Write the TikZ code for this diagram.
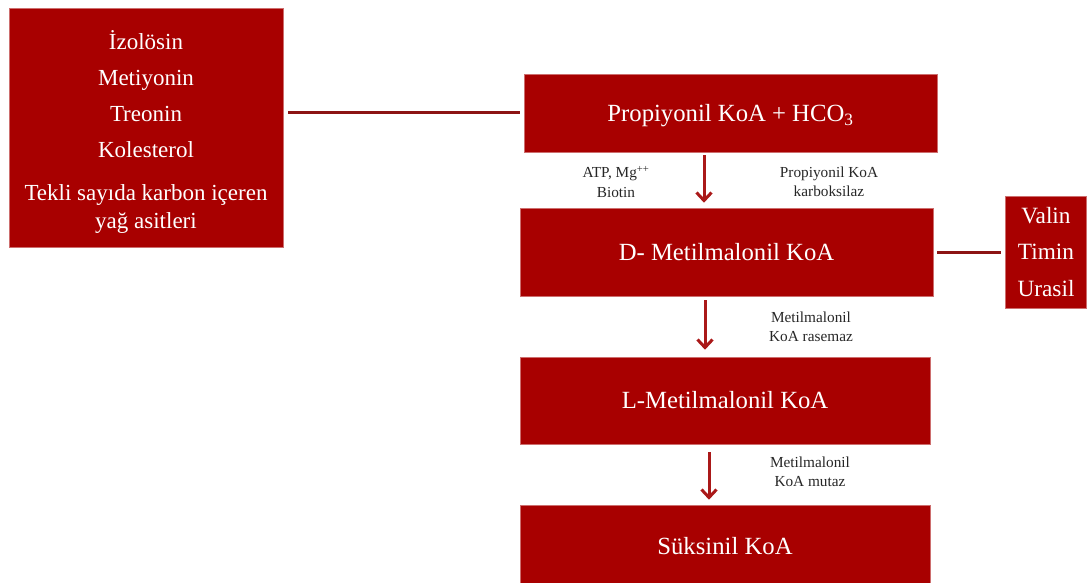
\documentclass[tikz,border=0pt]{standalone}
\usepackage{fontspec}
\setmainfont{Liberation Serif}
\usetikzlibrary{arrows.meta}
\definecolor{boxred}{RGB}{168,0,0}
\definecolor{boxedge}{RGB}{205,110,110}
\definecolor{linered}{RGB}{140,20,20}
\definecolor{arrred}{RGB}{170,25,25}
\begin{document}
\begin{tikzpicture}[x=1pt,y=-1pt,
  box/.style={draw=boxedge, line width=0.6pt, fill=boxred, text=white, align=center, inner sep=0pt,
    font=\fontsize{24.7}{36}\selectfont},
  lbl/.style={text=black!85, align=center, inner sep=0pt, font=\fontsize{15.3}{19.5}\selectfont},
  conn/.style={draw=linered, line width=3pt},
  arr/.style={draw=arrred, line width=3pt, -{Straight Barb[length=8pt,width=15pt,line width=3pt]}}]
\useasboundingbox (0,0) rectangle (1088,583);
\node[box, minimum width=274, minimum height=239, font=\fontsize{23}{36}\selectfont] (src) at (146,127.5)
  {\rule{0pt}{28pt}İzolösin\\Metiyonin\\Treonin\\Kolesterol\\[7pt]Tekli sayıda karbon içeren\\[-8pt]yağ asitleri};
\node[box, minimum width=413, minimum height=78] (prop) at (730.5,113) {\rule{0pt}{23pt}Propiyonil KoA + HCO\textsubscript{3}};
\node[box, minimum width=413, minimum height=88] (dmet) at (726.5,252) {D- Metilmalonil KoA};
\node[box, minimum width=81, minimum height=112, font=\fontsize{23.3}{36.5}\selectfont] (val) at (1046,252) {Valin\\Timin\\Urasil};
\node[box, minimum width=410, minimum height=87] (lmet) at (725,400.5) {L-Metilmalonil KoA};
\node[box, minimum width=410, minimum height=82] (suk) at (725,546) {Süksinil KoA};
\coordinate (a1) at (704,0);
\coordinate (a2) at (705,0);
\coordinate (a3) at (709,0);
\draw[conn, shorten <=5pt, shorten >=4pt] (src.east |- prop.west) -- (prop.west);
\draw[conn, shorten <=4pt, shorten >=4pt] (dmet.east) -- (val.west);
\draw[arr, shorten <=3pt, shorten >=5pt] (prop.south -| a1) -- (dmet.north -| a1);
\draw[arr, shorten <=4pt, shorten >=7pt] (dmet.south -| a2) -- (lmet.north -| a2);
\draw[arr, shorten <=8pt, shorten >=5pt] (lmet.south -| a3) -- (suk.north -| a3);
\node[lbl] (l1) at (616,182) {ATP, Mg\textsuperscript{++}\\Biotin};
\node[lbl] (l2) at (829,182) {Propiyonil KoA\\karboksilaz};
\node[lbl] (l3) at (811,327) {Metilmalonil\\KoA rasemaz};
\node[lbl] (l4) at (810,472) {Metilmalonil\\KoA mutaz};
\end{tikzpicture}
\end{document}
